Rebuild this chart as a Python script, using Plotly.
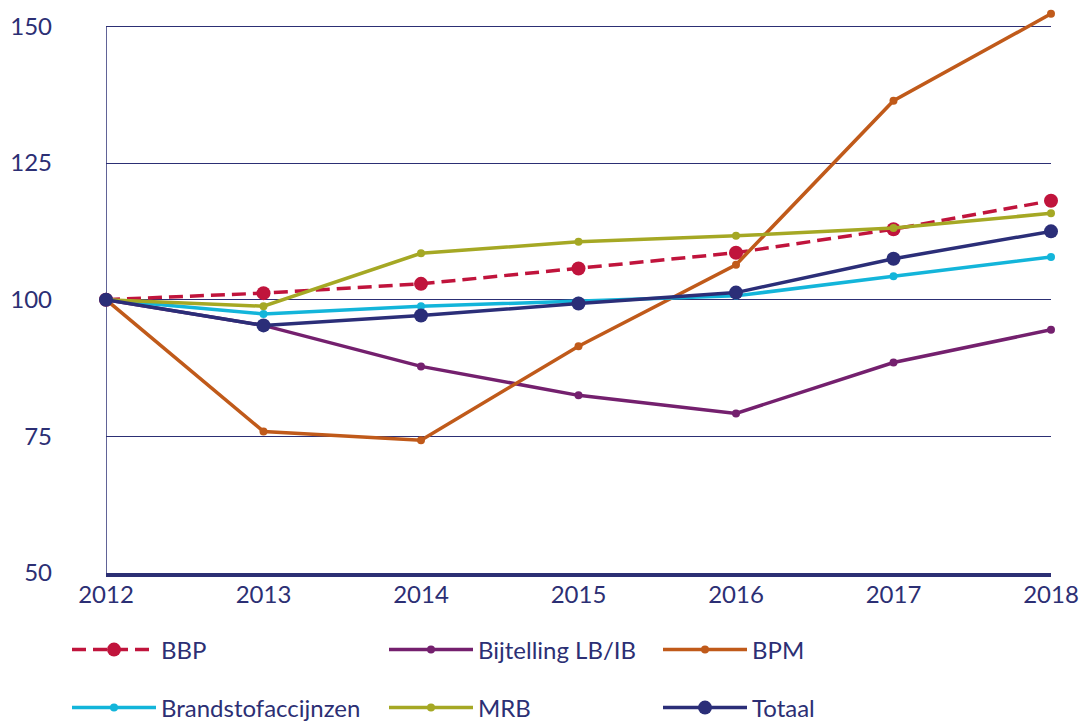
import plotly.graph_objects as go

years = [2012, 2013, 2014, 2015, 2016, 2017, 2018]
bbp = [100, 101.2, 102.9, 105.7, 108.6, 112.9, 118.1]
bijtelling = [100, 95.3, 87.8, 82.5, 79.2, 88.5, 94.5]
bpm = [100, 75.9, 74.3, 91.5, 106.4, 136.4, 152.3]
brandstof = [100, 97.4, 98.8, 99.8, 100.7, 104.3, 107.8]
mrb = [100, 98.8, 108.5, 110.6, 111.7, 113.1, 115.8]
totaal = [100, 95.3, 97.1, 99.3, 101.3, 107.5, 112.5]

NAVY = "#2C2F74"
FONT = "Lato"
W, H = 1083, 722

series = [
    ("BBP", bbp, "#C0143C", "dash", 14, "legend"),
    ("Bijtelling LB/IB", bijtelling, "#74206E", "solid", 8, "legend2"),
    ("BPM", bpm, "#C05A1A", "solid", 8, "legend3"),
    ("Brandstofaccijnzen", brandstof, "#13B5DA", "solid", 8, "legend4"),
    ("MRB", mrb, "#A5A824", "solid", 8, "legend5"),
    ("Totaal", totaal, "#2B2E78", "solid", 14, "legend6"),
]

fig = go.Figure()
for name, vals, color, dash, msize, leg in series:
    fig.add_trace(go.Scatter(
        x=years, y=vals, name=name, mode="lines+markers",
        line=dict(color=color, width=3.5, dash="14px,7px" if dash == "dash" else "solid"),
        marker=dict(color=color, size=msize),
        cliponaxis=False, legend=leg,
    ))

# left axis line from 50 to 150
fig.add_shape(type="line", xref="x", yref="y", x0=2012, x1=2012, y0=50, y1=150,
              line=dict(color=NAVY, width=1.5), layer="below")

plot_top, plot_bottom = 10, 573
left, right = 106, 1051

leg_common = dict(orientation="h", xanchor="left", yanchor="middle",
                  xref="container", yref="container",
                  font=dict(family=FONT, size=24, color=NAVY),
                  itemwidth=84, bgcolor="rgba(0,0,0,0)", itemclick=False)
positions = {
    "legend": (69, 650), "legend2": (386, 650), "legend3": (660, 650),
    "legend4": (69, 708), "legend5": (386, 708), "legend6": (660, 708),
}
layout_legs = {}
for k, (lx, ly) in positions.items():
    layout_legs[k] = dict(leg_common, x=(lx - 2) / W, y=1 - ly / H)

fig.update_layout(
    width=W, height=H,
    margin=dict(l=left, r=W - right, t=plot_top, b=H - plot_bottom, autoexpand=False),
    paper_bgcolor="white", plot_bgcolor="white",
    font=dict(family=FONT, size=24, color=NAVY),
    showlegend=True,
    xaxis=dict(range=[2012, 2018], tickvals=years, ticktext=[str(y) for y in years],
               showgrid=False, zeroline=False, showline=True, linecolor=NAVY, linewidth=3.5,
               ticks="", ticklabelstandoff=-3, tickfont=dict(family=FONT, size=24, color=NAVY)),
    yaxis=dict(range=[50, 153], tickvals=[50, 75, 100, 125, 150],
               showgrid=True, gridcolor=NAVY, gridwidth=1.3, zeroline=False, showline=False,
               ticks="", ticklabelstandoff=53, tickfont=dict(family=FONT, size=24, color=NAVY)),
    **layout_legs,
)

fig.write_html(
    "out.html",
    config={"displayModeBar": False},
    post_script="document.body.style.margin='0';document.body.style.overflow='hidden';",
)
